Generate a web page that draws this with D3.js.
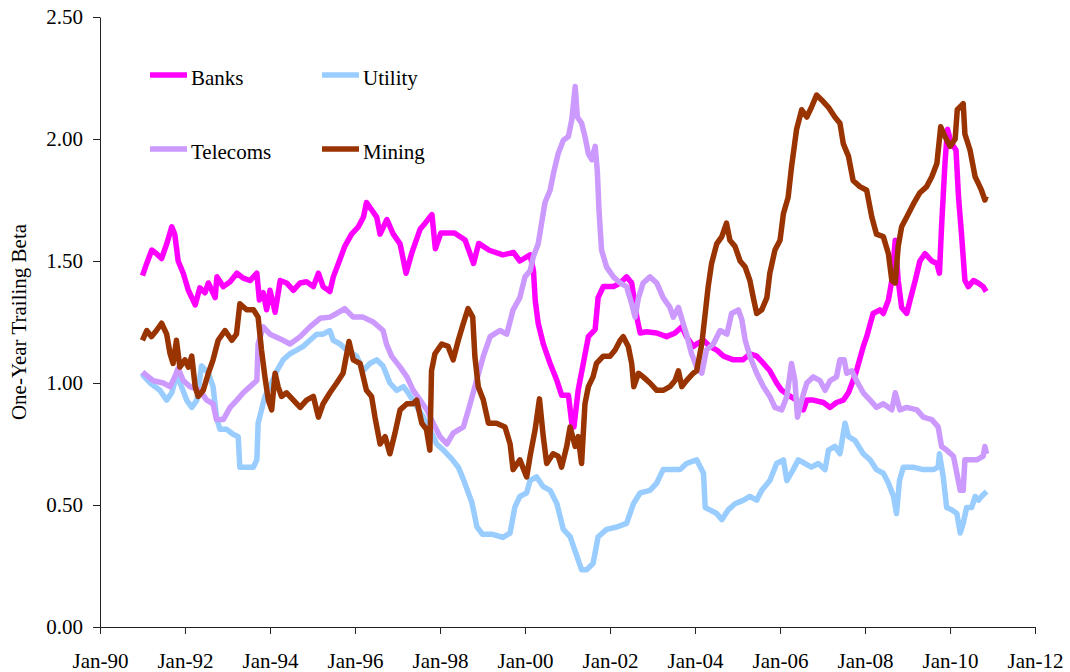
<!DOCTYPE html>
<html>
<head>
<meta charset="utf-8">
<script src="https://cdn.jsdelivr.net/npm/d3@7"></script>
<style>
  body { margin: 0; background: #fff; }
  .axis path, .axis line { stroke: #222; }
</style>
</head>
<body>
<div class="chart"></div>
<script>
// [decimal year, beta]
const banks = [
  [1991.00, 1.44], [1991.10, 1.49], [1991.22, 1.545], [1991.33, 1.53], [1991.45, 1.51], [1991.57, 1.57],
  [1991.69, 1.64], [1991.76, 1.61], [1991.84, 1.50], [1991.96, 1.45], [1992.08, 1.38], [1992.24, 1.32],
  [1992.35, 1.39], [1992.47, 1.37], [1992.55, 1.41], [1992.71, 1.35], [1992.75, 1.435], [1992.90, 1.395],
  [1993.06, 1.415], [1993.22, 1.45], [1993.37, 1.43], [1993.53, 1.42], [1993.61, 1.435], [1993.69, 1.45],
  [1993.75, 1.34], [1993.84, 1.37], [1993.92, 1.30], [1994.00, 1.38], [1994.12, 1.29], [1994.24, 1.42],
  [1994.39, 1.41], [1994.55, 1.38], [1994.71, 1.41], [1994.86, 1.415], [1995.02, 1.395], [1995.14, 1.45],
  [1995.25, 1.395], [1995.41, 1.375], [1995.49, 1.435], [1995.61, 1.49], [1995.76, 1.56], [1995.92, 1.61],
  [1996.08, 1.64], [1996.20, 1.68], [1996.27, 1.74], [1996.39, 1.71], [1996.51, 1.68], [1996.59, 1.61],
  [1996.75, 1.67], [1996.90, 1.61], [1997.06, 1.57], [1997.20, 1.45], [1997.33, 1.53], [1997.53, 1.63],
  [1997.65, 1.655], [1997.76, 1.68], [1997.81, 1.69], [1997.89, 1.55], [1998.02, 1.615], [1998.34, 1.615],
  [1998.59, 1.586], [1998.79, 1.49], [1998.91, 1.572], [1999.16, 1.544], [1999.48, 1.525], [1999.73, 1.535],
  [1999.88, 1.50], [2000.12, 1.525], [2000.20, 1.46], [2000.24, 1.34], [2000.31, 1.245], [2000.43, 1.16],
  [2000.59, 1.08], [2000.75, 1.01], [2000.86, 0.95], [2001.02, 0.95], [2001.10, 0.835], [2001.15, 0.82],
  [2001.25, 0.97], [2001.37, 1.08], [2001.49, 1.19], [2001.65, 1.22], [2001.72, 1.35], [2001.84, 1.395],
  [2002.08, 1.395], [2002.24, 1.41], [2002.39, 1.435], [2002.51, 1.41], [2002.63, 1.27], [2002.71, 1.205],
  [2002.86, 1.21], [2003.10, 1.205], [2003.33, 1.19], [2003.53, 1.205], [2003.69, 1.23], [2003.80, 1.19],
  [2003.96, 1.15], [2004.04, 1.16], [2004.20, 1.175], [2004.35, 1.15], [2004.51, 1.135], [2004.67, 1.11],
  [2004.90, 1.095], [2005.13, 1.095], [2005.29, 1.12], [2005.45, 1.11], [2005.61, 1.08], [2005.76, 1.05],
  [2005.92, 1.0], [2006.04, 0.97], [2006.24, 0.945], [2006.39, 0.93], [2006.55, 0.89], [2006.63, 0.93],
  [2006.78, 0.93], [2007.02, 0.92], [2007.18, 0.90], [2007.33, 0.92], [2007.49, 0.93], [2007.61, 0.96],
  [2007.72, 1.01], [2007.80, 1.05], [2007.96, 1.15], [2008.04, 1.19], [2008.19, 1.285], [2008.35, 1.30],
  [2008.43, 1.285], [2008.55, 1.34], [2008.63, 1.42], [2008.71, 1.585], [2008.78, 1.42], [2008.86, 1.31],
  [2008.98, 1.285], [2009.06, 1.34], [2009.18, 1.42], [2009.29, 1.50], [2009.41, 1.53], [2009.57, 1.50],
  [2009.69, 1.49], [2009.75, 1.45], [2009.80, 1.64], [2009.88, 1.90], [2009.94, 2.04], [2010.00, 2.0],
  [2010.08, 1.97], [2010.14, 1.955], [2010.20, 1.76], [2010.27, 1.61], [2010.35, 1.42], [2010.43, 1.395],
  [2010.55, 1.42], [2010.66, 1.41], [2010.78, 1.395], [2010.85, 1.375]
]

const utility = [
  [1991.00, 1.04], [1991.02, 1.03], [1991.18, 1.0], [1991.41, 0.97], [1991.57, 0.93], [1991.69, 0.96],
  [1991.80, 1.03], [1991.92, 0.985], [1992.04, 0.93], [1992.16, 0.90], [1992.28, 0.93], [1992.39, 1.07],
  [1992.55, 1.04], [1992.66, 0.985], [1992.74, 0.86], [1992.82, 0.81], [1992.98, 0.81], [1993.13, 0.79],
  [1993.25, 0.78], [1993.29, 0.655], [1993.41, 0.655], [1993.61, 0.655], [1993.69, 0.685], [1993.72, 0.835],
  [1993.80, 0.89], [1993.88, 0.945], [1994.00, 0.985], [1994.16, 1.05], [1994.31, 1.095], [1994.47, 1.12],
  [1994.63, 1.135], [1994.78, 1.15], [1994.94, 1.175], [1995.10, 1.20], [1995.25, 1.20], [1995.41, 1.215],
  [1995.49, 1.175], [1995.65, 1.16], [1995.80, 1.135], [1996.04, 1.11], [1996.19, 1.05], [1996.35, 1.08],
  [1996.51, 1.095], [1996.66, 1.07], [1996.82, 1.0], [1996.98, 0.97], [1997.14, 0.985], [1997.25, 0.96],
  [1997.41, 0.915], [1997.61, 0.86], [1997.76, 0.81], [1997.92, 0.75], [1998.08, 0.725], [1998.27, 0.69],
  [1998.43, 0.655], [1998.55, 0.605], [1998.75, 0.51], [1998.87, 0.41], [1999.00, 0.38], [1999.24, 0.38],
  [1999.48, 0.367], [1999.65, 0.385], [1999.76, 0.49], [1999.88, 0.535], [2000.04, 0.55], [2000.12, 0.60],
  [2000.27, 0.615], [2000.43, 0.575], [2000.59, 0.56], [2000.75, 0.505], [2000.90, 0.40], [2001.06, 0.37],
  [2001.22, 0.29], [2001.33, 0.235], [2001.45, 0.235], [2001.60, 0.26], [2001.72, 0.37], [2001.92, 0.40],
  [2002.16, 0.41], [2002.39, 0.425], [2002.55, 0.505], [2002.71, 0.55], [2002.94, 0.56], [2003.10, 0.59],
  [2003.25, 0.645], [2003.41, 0.645], [2003.65, 0.645], [2003.80, 0.67], [2004.04, 0.685], [2004.20, 0.63],
  [2004.24, 0.49], [2004.35, 0.48], [2004.51, 0.465], [2004.63, 0.44], [2004.78, 0.48], [2004.94, 0.505],
  [2005.14, 0.52], [2005.29, 0.535], [2005.45, 0.52], [2005.57, 0.56], [2005.76, 0.60], [2005.92, 0.67],
  [2006.08, 0.685], [2006.16, 0.60], [2006.31, 0.645], [2006.43, 0.685], [2006.59, 0.67], [2006.74, 0.655],
  [2006.90, 0.67], [2007.06, 0.645], [2007.14, 0.725], [2007.29, 0.74], [2007.41, 0.71], [2007.53, 0.835],
  [2007.61, 0.78], [2007.76, 0.765], [2007.96, 0.71], [2008.12, 0.685], [2008.27, 0.645], [2008.43, 0.63],
  [2008.55, 0.59], [2008.67, 0.535], [2008.74, 0.465], [2008.81, 0.60], [2008.90, 0.655], [2009.13, 0.655],
  [2009.37, 0.645], [2009.61, 0.645], [2009.72, 0.655], [2009.75, 0.71], [2009.84, 0.615], [2009.92, 0.49],
  [2010.04, 0.48], [2010.16, 0.465], [2010.24, 0.385], [2010.31, 0.425], [2010.39, 0.49], [2010.51, 0.49],
  [2010.59, 0.535], [2010.67, 0.52], [2010.74, 0.535], [2010.86, 0.555]
]

const telecoms = [
  [1991.00, 1.045], [1991.25, 1.01], [1991.49, 1.0], [1991.65, 0.985], [1991.76, 1.025], [1991.84, 1.06],
  [1991.96, 1.01], [1992.12, 0.985], [1992.35, 0.97], [1992.51, 0.93], [1992.66, 0.915], [1992.74, 0.85],
  [1992.90, 0.85], [1993.06, 0.90], [1993.22, 0.93], [1993.37, 0.96], [1993.53, 0.985], [1993.69, 1.01],
  [1993.72, 1.16], [1993.84, 1.23], [1994.00, 1.20], [1994.31, 1.175], [1994.47, 1.16], [1994.71, 1.19],
  [1994.94, 1.23], [1995.18, 1.265], [1995.41, 1.27], [1995.57, 1.285], [1995.76, 1.305], [1995.96, 1.27],
  [1996.19, 1.27], [1996.43, 1.25], [1996.66, 1.215], [1996.74, 1.16], [1996.86, 1.11], [1997.06, 1.065],
  [1997.22, 1.025], [1997.37, 0.97], [1997.53, 0.93], [1997.69, 0.89], [1997.84, 0.835], [1998.00, 0.78],
  [1998.16, 0.75], [1998.31, 0.795], [1998.55, 0.82], [1998.71, 0.915], [1998.86, 1.01], [1999.02, 1.11],
  [1999.18, 1.19], [1999.41, 1.215], [1999.57, 1.20], [1999.72, 1.30], [1999.88, 1.35], [2000.00, 1.435],
  [2000.12, 1.46], [2000.20, 1.52], [2000.31, 1.57], [2000.39, 1.655], [2000.47, 1.74], [2000.59, 1.79],
  [2000.67, 1.86], [2000.78, 1.94], [2000.90, 1.995], [2001.02, 2.01], [2001.10, 2.08], [2001.18, 2.215],
  [2001.23, 2.09], [2001.33, 2.065], [2001.41, 2.01], [2001.49, 1.94], [2001.57, 1.915], [2001.65, 1.97],
  [2001.70, 1.87], [2001.74, 1.71], [2001.80, 1.545], [2001.92, 1.475], [2002.08, 1.435], [2002.24, 1.41],
  [2002.39, 1.395], [2002.51, 1.325], [2002.59, 1.27], [2002.67, 1.35], [2002.78, 1.41], [2002.94, 1.435],
  [2003.10, 1.41], [2003.25, 1.35], [2003.41, 1.31], [2003.49, 1.27], [2003.61, 1.31], [2003.72, 1.245],
  [2003.80, 1.20], [2003.92, 1.12], [2004.04, 1.065], [2004.16, 1.04], [2004.27, 1.135], [2004.43, 1.16],
  [2004.59, 1.215], [2004.75, 1.20], [2004.86, 1.285], [2005.02, 1.30], [2005.10, 1.26], [2005.18, 1.175],
  [2005.29, 1.11], [2005.45, 1.04], [2005.61, 0.985], [2005.76, 0.945], [2005.88, 0.90], [2006.04, 0.89],
  [2006.16, 0.945], [2006.27, 1.08], [2006.35, 1.01], [2006.41, 0.86], [2006.51, 0.93], [2006.63, 1.0],
  [2006.78, 1.025], [2006.94, 1.01], [2007.06, 0.97], [2007.18, 1.01], [2007.33, 1.025], [2007.41, 1.095],
  [2007.51, 1.095], [2007.57, 1.04], [2007.69, 1.05], [2007.80, 1.01], [2007.96, 0.96], [2008.12, 0.93],
  [2008.27, 0.90], [2008.43, 0.915], [2008.63, 0.89], [2008.71, 0.96], [2008.82, 0.89], [2008.98, 0.90],
  [2009.22, 0.89], [2009.37, 0.86], [2009.57, 0.85], [2009.72, 0.82], [2009.80, 0.74], [2009.92, 0.725],
  [2010.08, 0.70], [2010.16, 0.63], [2010.24, 0.56], [2010.31, 0.56], [2010.35, 0.685], [2010.47, 0.685],
  [2010.63, 0.685], [2010.78, 0.70], [2010.82, 0.74], [2010.86, 0.71]
]

const mining = [
  [1991.00, 1.175], [1991.10, 1.215], [1991.21, 1.19], [1991.33, 1.215], [1991.45, 1.245], [1991.57, 1.20],
  [1991.65, 1.12], [1991.72, 1.08], [1991.80, 1.175], [1991.88, 1.065], [1992.00, 1.095], [1992.08, 1.065],
  [1992.16, 1.11], [1992.24, 0.985], [1992.31, 0.945], [1992.43, 0.97], [1992.55, 1.04], [1992.66, 1.095],
  [1992.78, 1.175], [1992.94, 1.215], [1993.10, 1.175], [1993.21, 1.20], [1993.29, 1.325], [1993.45, 1.30],
  [1993.61, 1.30], [1993.72, 1.27], [1993.80, 1.135], [1993.88, 1.025], [1993.96, 0.93], [1994.04, 0.89],
  [1994.12, 1.04], [1994.19, 0.985], [1994.27, 0.945], [1994.39, 0.96], [1994.55, 0.93], [1994.71, 0.90],
  [1994.86, 0.93], [1995.02, 0.945], [1995.14, 0.86], [1995.25, 0.915], [1995.41, 0.96], [1995.57, 1.0],
  [1995.72, 1.04], [1995.86, 1.17], [1995.96, 1.095], [1996.12, 1.08], [1996.27, 0.97], [1996.39, 0.945],
  [1996.47, 0.86], [1996.59, 0.75], [1996.71, 0.78], [1996.82, 0.71], [1996.94, 0.795], [1997.06, 0.89],
  [1997.22, 0.915], [1997.37, 0.915], [1997.45, 0.93], [1997.57, 0.835], [1997.68, 0.81], [1997.76, 0.725],
  [1997.80, 1.05], [1997.88, 1.12], [1998.04, 1.16], [1998.19, 1.15], [1998.31, 1.095], [1998.43, 1.175],
  [1998.55, 1.245], [1998.66, 1.305], [1998.77, 1.27], [1998.82, 1.11], [1998.90, 0.985], [1999.02, 0.93],
  [1999.14, 0.835], [1999.33, 0.835], [1999.53, 0.82], [1999.65, 0.75], [1999.72, 0.645], [1999.88, 0.685],
  [2000.04, 0.615], [2000.12, 0.70], [2000.24, 0.81], [2000.34, 0.935], [2000.43, 0.78], [2000.51, 0.67],
  [2000.66, 0.71], [2000.78, 0.70], [2000.86, 0.655], [2000.98, 0.74], [2001.06, 0.82], [2001.18, 0.74],
  [2001.25, 0.78], [2001.33, 0.67], [2001.41, 0.915], [2001.49, 0.985], [2001.60, 1.025], [2001.68, 1.08],
  [2001.84, 1.11], [2002.00, 1.11], [2002.12, 1.135], [2002.24, 1.175], [2002.31, 1.19], [2002.43, 1.15],
  [2002.51, 1.08], [2002.56, 0.985], [2002.67, 1.04], [2002.78, 1.025], [2002.94, 1.0], [2003.10, 0.97],
  [2003.25, 0.97], [2003.41, 0.985], [2003.53, 1.01], [2003.61, 1.05], [2003.69, 0.985], [2003.80, 1.01],
  [2003.96, 1.04], [2004.04, 1.05], [2004.16, 1.16], [2004.24, 1.285], [2004.31, 1.395], [2004.39, 1.49],
  [2004.51, 1.57], [2004.63, 1.60], [2004.74, 1.655], [2004.82, 1.585], [2004.94, 1.56], [2005.06, 1.50],
  [2005.18, 1.475], [2005.29, 1.42], [2005.37, 1.35], [2005.45, 1.285], [2005.57, 1.30], [2005.69, 1.35],
  [2005.76, 1.45], [2005.88, 1.545], [2006.00, 1.585], [2006.08, 1.695], [2006.19, 1.76], [2006.27, 1.885],
  [2006.39, 2.04], [2006.51, 2.12], [2006.63, 2.09], [2006.74, 2.13], [2006.86, 2.18], [2006.98, 2.16],
  [2007.14, 2.13], [2007.29, 2.09], [2007.41, 2.065], [2007.49, 1.98], [2007.61, 1.93], [2007.72, 1.83],
  [2007.88, 1.805], [2008.04, 1.79], [2008.16, 1.68], [2008.27, 1.61], [2008.43, 1.60], [2008.55, 1.53],
  [2008.63, 1.42], [2008.71, 1.41], [2008.78, 1.56], [2008.86, 1.64], [2008.98, 1.68], [2009.14, 1.735],
  [2009.29, 1.78], [2009.45, 1.805], [2009.57, 1.845], [2009.69, 1.90], [2009.78, 2.05], [2009.88, 2.01],
  [2010.00, 1.97], [2010.12, 2.0], [2010.17, 2.12], [2010.31, 2.145], [2010.35, 2.02], [2010.47, 1.955],
  [2010.59, 1.845], [2010.66, 1.82], [2010.74, 1.79], [2010.82, 1.75], [2010.85, 1.765]
]

const seriesNames = ['Banks', 'Utility', 'Telecoms', 'Mining']
const seriesColors = ['#ff00ff', '#99ccff', '#cc99ff', '#993300']
const yTicks = [0, 0.5, 1, 1.5, 2, 2.5]
const xTickYears = [1990, 1992, 1994, 1996, 1998, 2000, 2002, 2004, 2006, 2008, 2010, 2012]

;(function init() {
  const width = 1070
  const height = 672
  const left = 100
  const right = 1035
  const top = 17
  const bottom = 627
  const strokeWidth = 5.5
  const fontFamily = "'Liberation Serif', 'Times New Roman', 'DejaVu Serif', serif"
  const fontSize = '21px'

  const toDate = (t) => {
    const y = Math.floor(t)
    const start = new Date(y, 0, 1)
    const end = new Date(y + 1, 0, 1)
    return new Date(+start + (t - y) * (end - start))
  }

  const xScale = d3
    .scaleTime()
    .domain([new Date(1990, 0, 1), new Date(2012, 0, 1)])
    .range([left, right])

  const yScale = d3.scaleLinear().domain([0, 2.5]).range([bottom, top])

  const svg = d3
    .select('.chart')
    .append('svg')
    .attr('width', width)
    .attr('height', height)

  const xAxis = d3
    .axisBottom(xScale)
    .tickValues(xTickYears.map((y) => new Date(y, 0, 1)))
    .tickFormat(d3.timeFormat('%b-%y'))
    .tickSizeInner(7)
    .tickSizeOuter(0)
    .tickPadding(19)

  const yAxis = d3
    .axisLeft(yScale)
    .tickValues(yTicks)
    .tickFormat(d3.format('.2f'))
    .tickSizeInner(7)
    .tickSizeOuter(0)
    .tickPadding(10)

  for (const axis of [
    { gen: xAxis, transform: 'translate(0,' + bottom + ')' },
    { gen: yAxis, transform: 'translate(' + left + ',0)' }
  ]) {
    svg
      .append('g')
      .attr('class', 'axis')
      .attr('transform', axis.transform)
      .call(axis.gen)
      .attr('font-family', fontFamily)
      .attr('font-size', fontSize)
      .selectAll('text')
      .style('font-family', fontFamily)
      .style('font-size', fontSize)
      .attr('fill', '#000')
  }

  svg
    .append('text')
    .attr('transform', 'translate(26,' + (top + bottom) / 2 + ') rotate(-90)')
    .attr('text-anchor', 'middle')
    .style('font-family', fontFamily)
    .style('font-size', fontSize)
    .text('One-Year Trailing Beta')

  const line = d3
    .line()
    .x((d) => xScale(toDate(d[0])))
    .y((d) => yScale(d[1]))

  const allSeries = [banks, utility, telecoms, mining]

  allSeries.forEach((s, i) => {
    svg
      .append('path')
      .datum(s)
      .attr('class', 'line')
      .attr('d', line)
      .attr('stroke', seriesColors[i])
      .attr('stroke-width', strokeWidth)
      .attr('stroke-linejoin', 'round')
      .attr('fill', 'none')
  })

  // legend, two columns by two rows
  const legend = svg
    .selectAll('.legend')
    .data(seriesNames)
    .enter()
    .append('g')
    .attr('class', 'legend')
    .attr(
      'transform',
      (d, i) => 'translate(' + (150 + (i % 2) * 172) + ',' + (75 + Math.floor(i / 2) * 74) + ')'
    )

  legend
    .append('line')
    .attr('x1', 0)
    .attr('x2', 37)
    .attr('y1', 0)
    .attr('y2', 0)
    .attr('stroke', (d, i) => seriesColors[i])
    .attr('stroke-width', strokeWidth)

  legend
    .append('text')
    .attr('x', 41)
    .attr('y', 10)
    .style('font-family', fontFamily)
    .style('font-size', fontSize)
    .text((d) => d)
})()
</script>
</body>
</html>
